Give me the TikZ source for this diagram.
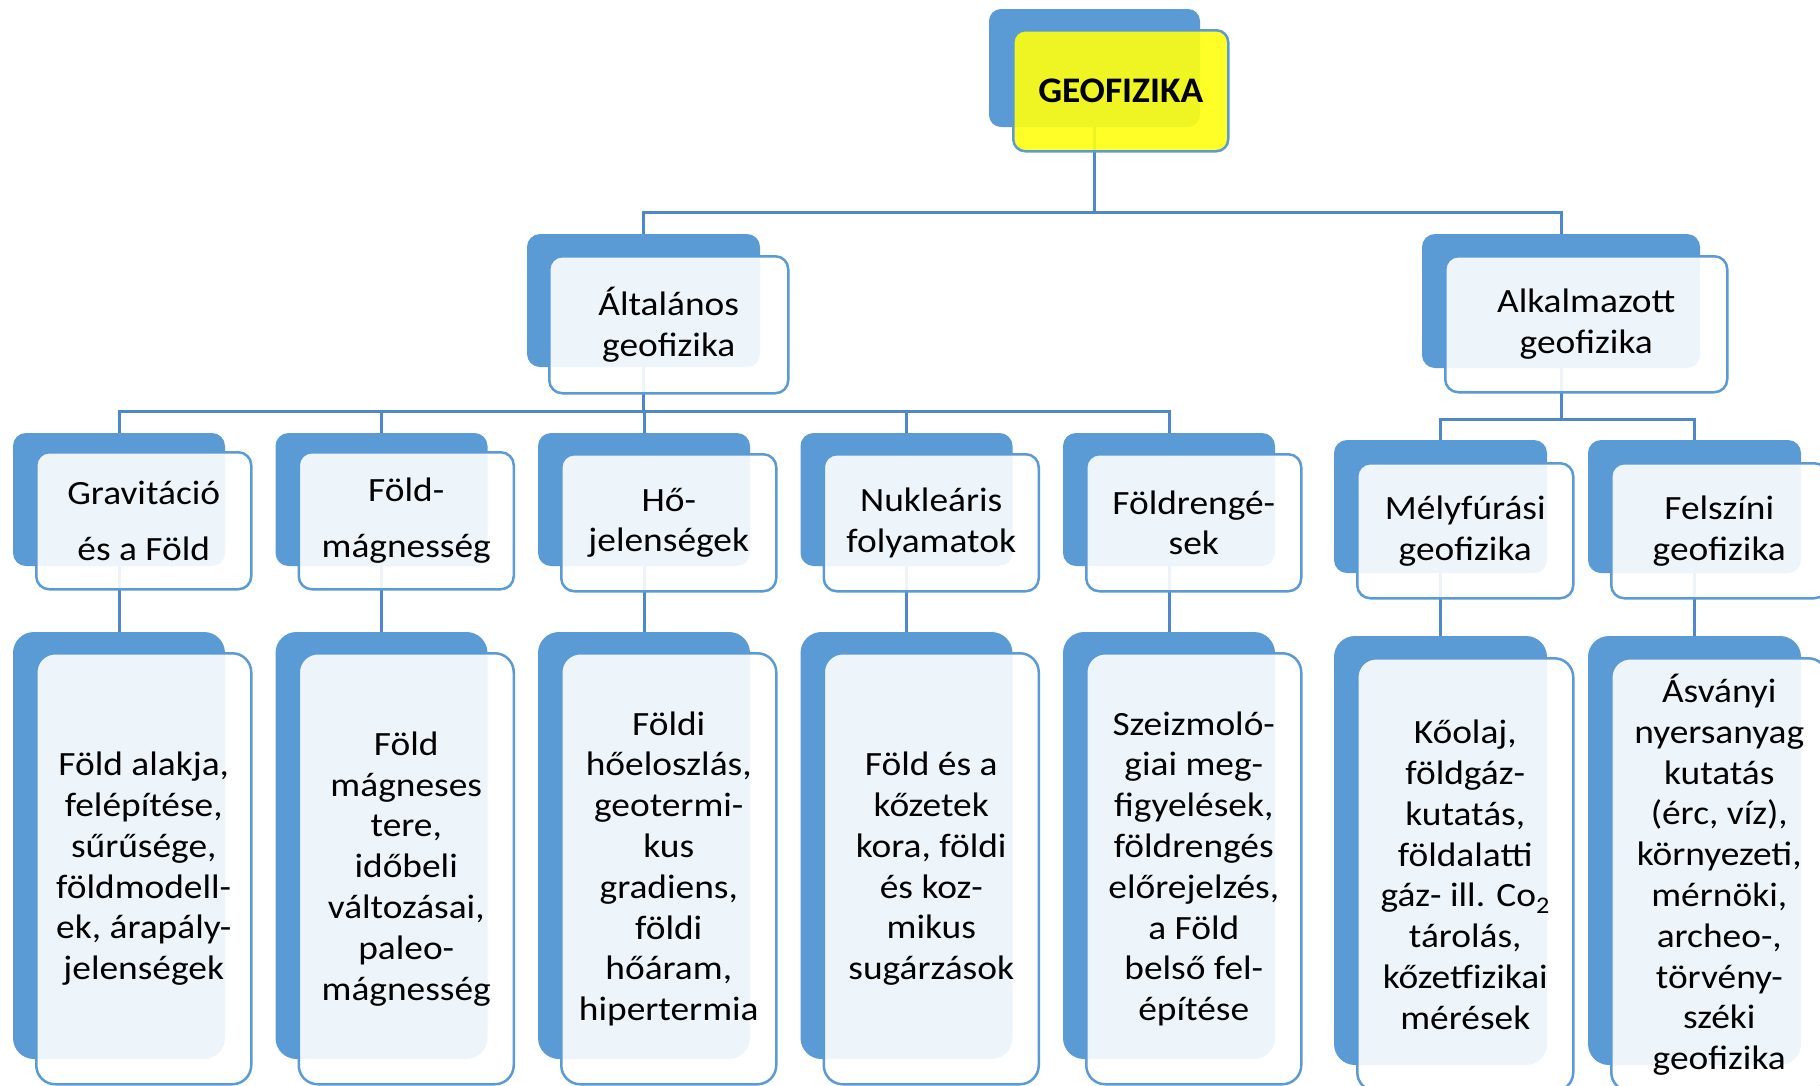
\documentclass[tikz,border=0pt]{standalone}
\usepackage{fontspec}
\setmainfont{Carlito}[FakeStretch=1.1]
\newfontfamily\titlefont{Carlito}[FakeStretch=1.04]
\pgfdeclarelayer{bg}
\pgfsetlayers{bg,main}
\definecolor{blu}{HTML}{5B9BD5}
\definecolor{conncol}{HTML}{4E88C8}
\definecolor{yel}{HTML}{FFFF10}
\tikzset{
 backbox/.style={fill=blu, draw=none, rounded corners=#1, anchor=north west, inner sep=0pt, outer sep=0pt},
 frontbox/.style={draw=blu, line width=2.5pt, fill=white, fill opacity=0.9, text opacity=1, rounded corners=#1, anchor=north west, inner sep=0pt, align=center, font=\fontsize{34}{40.8}\selectfont},
 conn/.style={draw=conncol, line width=3pt},
 lvthree/.style={minimum width=212pt, minimum height=133pt},
 lvthreef/.style={minimum width=215pt, minimum height=137pt},
 lvfour/.style={minimum width=212pt, minimum height=427pt},
 lvfourf/.style={minimum width=215pt, minimum height=431pt},
}
\begin{document}
\begin{tikzpicture}[x=1pt,y=-1pt]
\clip (0,0) rectangle (1820,1085);
% top
\node[backbox=12pt, minimum width=211pt, minimum height=118pt] (geoB) at (989,9) {};
\node[frontbox=12pt, fill=yel, minimum width=215pt, minimum height=121pt, font=\fontsize{36}{42}\titlefont\bfseries] (geo) at (1012,29) {GEOFIZIKA};
% level 2
\node[backbox=13pt, minimum width=233pt, minimum height=133pt] (altB) at (527,234) {};
\node[frontbox=13pt, minimum width=239pt, minimum height=137pt] (alt) at (548,255) {Általános\\geofizika};
\node[backbox=13pt, minimum width=278pt, minimum height=134pt] (alkB) at (1422,234) {};
\node[frontbox=13pt, minimum width=282pt, minimum height=136pt] (alk) at (1444,255) {Alkalmazott\\geofizika};
% level 3 general
\node[backbox=13pt, lvthree] (gravB) at (13,433) {};
\node[frontbox=13pt, lvthreef] (grav) at (35,451) {Gravitáció\\[15pt]és a Föld};
\node[backbox=13pt, lvthree] (magB) at (275.5,433) {};
\node[frontbox=13pt, lvthreef] (mag) at (297.5,451) {Föld-\\[15pt]mágnesség};
\node[backbox=13pt, lvthree] (hoB) at (538,433) {};
\node[frontbox=13pt, lvthreef] (ho) at (560,453) {Hő-\\jelenségek};
\node[backbox=13pt, lvthree] (nukB) at (800.5,433) {};
\node[frontbox=13pt, lvthreef] (nuk) at (822.5,453) {Nukleáris\\folyamatok};
\node[backbox=13pt, lvthree] (frgB) at (1063,433) {};
\node[frontbox=13pt, lvthreef] (frg) at (1085,453) {Földrengé-\\sek};
% level 3 applied
\node[backbox=13pt, minimum width=213pt, minimum height=133pt] (melyB) at (1334,440) {};
\node[frontbox=13pt, minimum width=216pt, minimum height=135pt] (mely) at (1356,462) {Mélyfúrási\\geofizika};
\node[backbox=13pt, minimum width=213pt, minimum height=133pt] (felB) at (1588,440) {};
\node[frontbox=13pt, minimum width=216pt, minimum height=135pt] (fel) at (1610,462) {Felszíni\\geofizika};
% level 4 general
\node[backbox=21pt, lvfour] (gravDB) at (13,632) {};
\node[frontbox=19pt, lvfourf] (gravD) at (35,652) {Föld alakja,\\felépítése,\\sűrűsége,\\földmodell-\\ek, árapály-\\jelenségek};
\node[backbox=21pt, lvfour] (magDB) at (275.5,632) {};
\node[frontbox=19pt, lvfourf] (magD) at (297.5,652) {Föld\\mágneses\\tere,\\időbeli\\változásai,\\paleo-\\mágnesség};
\node[backbox=21pt, lvfour] (hoDB) at (538,632) {};
\node[frontbox=19pt, lvfourf] (hoD) at (560,652) {Földi\\hőeloszlás,\\geotermi-\\kus\\gradiens,\\földi\\hőáram,\\hipertermia};
\node[backbox=21pt, lvfour] (nukDB) at (800.5,632) {};
\node[frontbox=19pt, lvfourf] (nukD) at (822.5,652) {Föld és a\\kőzetek\\kora, földi\\és koz-\\mikus\\sugárzások};
\node[backbox=21pt, lvfour] (frgDB) at (1063,632) {};
\node[frontbox=19pt, lvfourf] (frgD) at (1085,652) {Szeizmoló-\\giai meg-\\figyelések,\\földrengés\\előrejelzés,\\a Föld\\belső fel-\\építése};
% level 4 applied
\node[backbox=21pt, minimum width=213pt, minimum height=429pt] (melyDB) at (1334,636) {};
\node[frontbox=19pt, minimum width=216pt, minimum height=433pt] (melyD) at (1356,657) {Kőolaj,\\földgáz-\\kutatás,\\földalatti\\gáz- ill. Co\textsubscript{2}\\tárolás,\\kőzetfizikai\\mérések};
\node[backbox=21pt, minimum width=213pt, minimum height=429pt] (felDB) at (1588,636) {};
\node[frontbox=19pt, minimum width=216pt, minimum height=433pt] (felD) at (1610,657) {Ásványi\\nyersanyag\\kutatás\\(érc, víz),\\környezeti,\\mérnöki,\\archeo-,\\törvény-\\széki\\geofizika};
% connectors
\coordinate (bus1) at (0,212);
\coordinate (bus2) at (0,411);
\coordinate (bus3) at (0,419);
\begin{pgfonlayer}{bg}
\fill[white] (0,0) rectangle (1820,1085);
\draw[conn] (geoB.center) -- (geoB.center |- bus1) -| (altB.center);
\draw[conn] (geoB.center |- bus1) -| (alkB.center);
\draw[conn] (altB.center) -- (altB.center |- bus2) -| (gravB.center);
\draw[conn] (altB.center |- bus2) -| (magB.center);
\draw[conn] (altB.center |- bus2) -| (hoB.center);
\draw[conn] (altB.center |- bus2) -| (nukB.center);
\draw[conn] (altB.center |- bus2) -| (frgB.center);
\draw[conn] (alkB.center) -- (alkB.center |- bus3) -| (melyB.center);
\draw[conn] (alkB.center |- bus3) -| (felB.center);
\draw[conn] (gravB.center) -- (gravDB.center);
\draw[conn] (magB.center) -- (magDB.center);
\draw[conn] (hoB.center) -- (hoDB.center);
\draw[conn] (nukB.center) -- (nukDB.center);
\draw[conn] (frgB.center) -- (frgDB.center);
\draw[conn] (melyB.center) -- (melyDB.center);
\draw[conn] (felB.center) -- (felDB.center);
\end{pgfonlayer}
\end{tikzpicture}
\end{document}
